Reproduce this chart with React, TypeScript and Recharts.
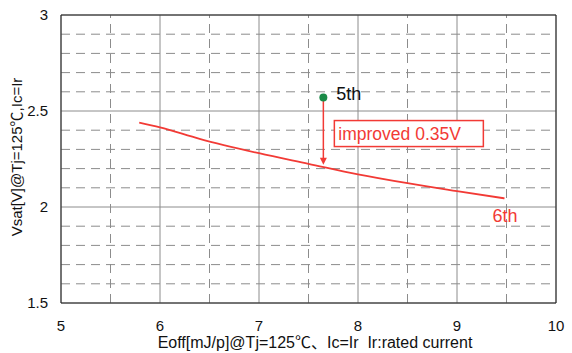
import {
  LineChart,
  Line,
  XAxis,
  YAxis,
  ReferenceLine,
  ReferenceDot,
  Customized,
} from 'recharts';

// 6th generation trade-off curve (Eoff vs Vsat)
const eoff6th = [5.79, 6.0, 6.4, 7.0, 7.5, 8.0, 8.5, 9.0, 9.48];
const vsat6th = [2.44, 2.415, 2.355, 2.28, 2.225, 2.17, 2.124, 2.083, 2.045];

// 5th generation reference point and the improvement vs 6th
const eoff5th = 7.65;
const vsat5th = 2.57;
const improvement = 0.35;

const xMajor = [5, 6, 7, 8, 9, 10];
const xMinor = [5.5, 6.5, 7.5, 8.5, 9.5];
const yMajor = [1.5, 2, 2.5, 3];
const yMinor = [1.6, 1.7, 1.8, 1.9, 2.1, 2.2, 2.3, 2.4, 2.6, 2.7, 2.8, 2.9];

const data = eoff6th.map((x, i) => ({ eoff: x, vsat: vsat6th[i] }));

const FONT = '"Liberation Sans", Arial, "Noto Sans CJK JP", sans-serif';
const RED = '#f23a35';
const GRID = '#8c8c8c';
const INK = '#111';

const ArrowHead = ({ cx, cy }: { cx?: number; cy?: number }) => {
  if (cx == null || cy == null) return null;
  return <path d={`M${cx - 3.5},${cy - 7} L${cx + 3.5},${cy - 7} L${cx},${cy} Z`} fill={RED} />;
};

// green dot with the "5th" tag and the improvement box below it
const FifthMarker = ({ cx, cy }: { cx?: number; cy?: number }) => {
  if (cx == null || cy == null) return null;
  return (
    <g>
      <circle cx={cx} cy={cy} r={4} fill="#198a47" />
      <text x={cx + 13} y={cy - 4} dy="0.35em" fontSize={18} fontFamily={FONT} fill={INK}>
        5th
      </text>
      <rect x={cx + 11} y={cy + 23} width={149} height={26} fill="#fff" stroke={RED} strokeWidth={1.5} />
      <text x={cx + 15} y={cy + 36} dy="0.35em" fontSize={17.5} fontFamily={FONT} fill={RED}>
        {`improved ${improvement.toFixed(2)}V`}
      </text>
    </g>
  );
};

const SixthTag = ({ cx, cy }: { cx?: number; cy?: number }) => {
  if (cx == null || cy == null) return null;
  return (
    <text x={cx - 12} y={cy + 17} dy="0.35em" fontSize={18} fontFamily={FONT} fill={RED}>
      6th
    </text>
  );
};

const XTick = ({ x, y, payload }: any) => (
  <text x={x} y={y} dy="0.35em" textAnchor="middle" fontSize={15} fontFamily={FONT} fill={INK}>
    {payload.value}
  </text>
);

const YTick = ({ x, y, payload }: any) => (
  <text x={x} y={y} dy="0.35em" textAnchor="end" fontSize={15} fontFamily={FONT} fill={INK}>
    {payload.value}
  </text>
);

const Titles = () => (
  <g fontFamily={FONT} fill={INK}>
    <text
      x={16}
      y={157}
      transform="rotate(-90 16 157)"
      textAnchor="middle"
      dominantBaseline="central"
      fontSize={15}
    >
      Vsat[V]@Tj=125℃,Ic=Ir
    </text>
    <text
      x={315}
      y={342}
      textAnchor="middle"
      dominantBaseline="central"
      fontSize={16}
      style={{ whiteSpace: 'pre' }}
    >
      {'Eoff[mJ/p]@Tj=125℃、Ic=Ir  Ir:rated current'}
    </text>
  </g>
);

export default function App() {
  const last = data[data.length - 1];
  return (
    <div style={{ position: 'absolute', left: 0, top: 0, background: '#fff' }}>
      <LineChart
        width={572}
        height={353}
        data={data}
        margin={{ top: 15, right: 16, bottom: 0, left: 0 }}
      >
        <XAxis
          dataKey="eoff"
          type="number"
          domain={[5, 10]}
          ticks={xMajor}
          height={50}
          axisLine={false}
          tickLine={false}
          tickSize={0}
          tickMargin={23}
          interval={0}
          tick={<XTick />}
        />
        <YAxis
          type="number"
          domain={[1.5, 3]}
          ticks={yMajor}
          width={61}
          axisLine={false}
          tickLine={false}
          tickSize={0}
          tickMargin={13}
          interval={0}
          tick={<YTick />}
        />

        {/* dashed minor grid */}
        {xMinor.map((v) => (
          <ReferenceLine key={`xm${v}`} x={v} stroke={GRID} strokeDasharray="9 6" />
        ))}
        {yMinor.map((v) => (
          <ReferenceLine key={`ym${v}`} y={v} stroke={GRID} strokeDasharray="9 6" />
        ))}
        {/* solid major grid */}
        {xMajor.map((v) => (
          <ReferenceLine key={`xM${v}`} x={v} stroke={GRID} />
        ))}
        {yMajor.map((v) => (
          <ReferenceLine key={`yM${v}`} y={v} stroke={GRID} />
        ))}
        {/* plot frame */}
        <ReferenceLine x={5} stroke="#222" />
        <ReferenceLine x={10} stroke="#222" />
        <ReferenceLine y={1.5} stroke="#222" />
        <ReferenceLine y={3} stroke="#222" />

        <Line
          dataKey="vsat"
          type="monotone"
          stroke={RED}
          strokeWidth={1.8}
          dot={false}
          isAnimationActive={false}
        />

        {/* improvement arrow from 5th down to the 6th curve */}
        <ReferenceLine
          segment={[
            { x: eoff5th, y: vsat5th },
            { x: eoff5th, y: vsat5th - improvement + 0.02 },
          ]}
          stroke={RED}
          strokeWidth={1.5}
        />
        <ReferenceDot x={eoff5th} y={vsat5th - improvement} r={0} shape={<ArrowHead />} />
        <ReferenceDot x={eoff5th} y={vsat5th} r={4} shape={<FifthMarker />} />
        <ReferenceDot x={last.eoff} y={last.vsat} r={0} shape={<SixthTag />} />

        <Customized component={Titles} />
      </LineChart>
    </div>
  );
}
